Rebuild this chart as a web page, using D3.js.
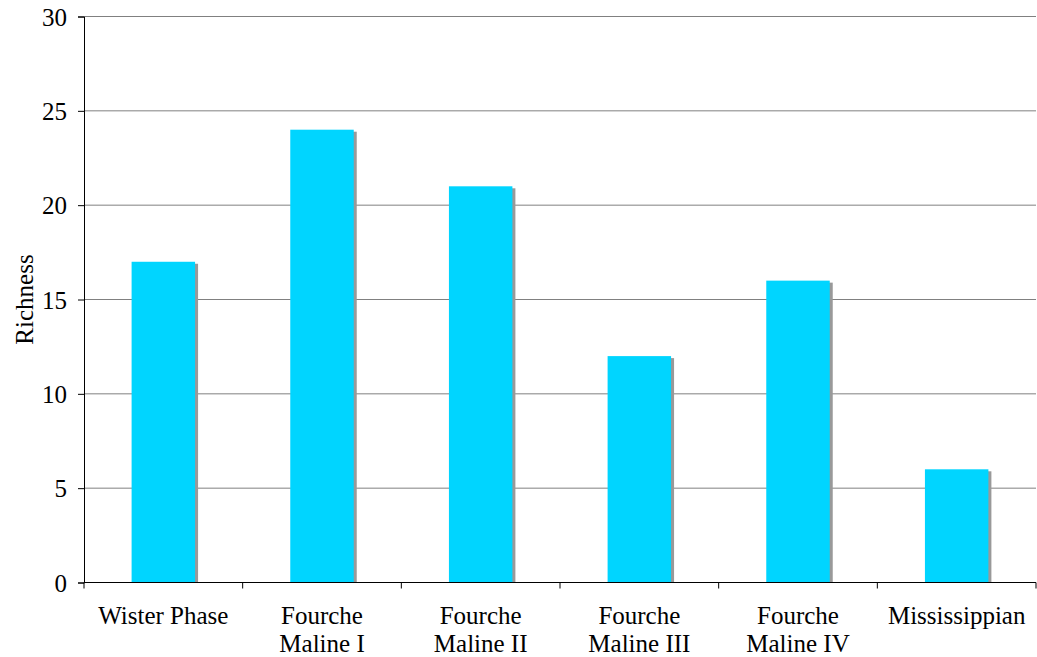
<!DOCTYPE html>
<html>
<head>
<meta charset="utf-8">
<script src="https://cdn.jsdelivr.net/npm/d3@7"></script>
<style>
  body { margin: 0; background: #fff; }
  text { font-family: "Liberation Serif", "Times New Roman", serif; fill: #000; }
</style>
</head>
<body>
<svg id="chart" width="1037" height="657"></svg>
<script>
// chart data
const categories = [
    ['Wister Phase'],
    ['Fourche', 'Maline I'],
    ['Fourche', 'Maline II'],
    ['Fourche', 'Maline III'],
    ['Fourche', 'Maline IV'],
    ['Mississippian']
]
const richness = [17, 24, 21, 12, 16, 6]
const yTicks = [0, 5, 10, 15, 20, 25, 30]

const fontSize = '25px'

const margin = { top: 16.5, right: 1, bottom: 74.5, left: 84 }
const width  = 1037 - margin.left - margin.right
const height = 657 - margin.top - margin.bottom

const svg = d3.select('#chart')
const g = svg.append('g')
    .attr('transform', `translate(${margin.left},${margin.top})`)

const x = d3.scaleBand()
    .domain(d3.range(categories.length))
    .range([0, width])
    .paddingInner(0.6)
    .paddingOuter(0.3)

const y = d3.scaleLinear()
    .domain([0, 30])
    .range([height, 0])

// gridlines
g.selectAll('.grid')
    .data(yTicks.filter(d => d > 0))
    .join('line')
    .attr('x1', 0).attr('x2', width)
    .attr('y1', d => y(d)).attr('y2', d => y(d))
    .attr('stroke', '#808080')
    .attr('stroke-width', 1)

// shadow then bars
g.selectAll('.shadow')
    .data(richness)
    .join('rect')
    .attr('x', (d, i) => x(i) + 3)
    .attr('y', d => y(d) + 2)
    .attr('width', x.bandwidth())
    .attr('height', d => height - y(d) - 2)
    .attr('fill', '#999999')

g.selectAll('.bar')
    .data(richness)
    .join('rect')
    .attr('x', (d, i) => x(i))
    .attr('y', d => y(d))
    .attr('width', x.bandwidth())
    .attr('height', d => height - y(d))
    .attr('fill', '#00d5ff')

// y axis
const yAxis = g.append('g')
    .call(d3.axisLeft(y).tickValues(yTicks).tickSize(6).tickPadding(11))
yAxis.attr('font-family', null).attr('font-size', null)
yAxis.select('.domain').attr('stroke', '#000')
yAxis.selectAll('.tick line').attr('stroke', '#000')
yAxis.selectAll('text')
    .attr('dy', '0.34em')
    .style('font-size', fontSize)
    .style('font-family', '"Liberation Serif", serif')

// x axis with ticks at band boundaries
const step = width / categories.length
const xAxis = g.append('g').attr('transform', `translate(0,${height})`)
xAxis.append('line')
    .attr('x1', 0).attr('x2', width)
    .attr('stroke', '#000')
xAxis.selectAll('.xtick')
    .data(d3.range(categories.length + 1))
    .join('line')
    .attr('x1', d => d * step).attr('x2', d => d * step)
    .attr('y1', 0).attr('y2', 6)
    .attr('stroke', '#000')

const labels = xAxis.selectAll('.xlabel')
    .data(categories)
    .join('text')
    .attr('text-anchor', 'middle')
    .style('font-size', fontSize)
    .attr('transform', (d, i) => `translate(${x(i) + x.bandwidth() / 2},${41.5})`)

labels.selectAll('tspan')
    .data(d => d)
    .join('tspan')
    .attr('x', 0)
    .attr('dy', (d, i) => i === 0 ? 0 : 28)
    .text(d => d)

// y label
svg.append('text')
    .attr('transform', `translate(33,${margin.top + height / 2}) rotate(-90)`)
    .attr('text-anchor', 'middle')
    .style('font-size', fontSize)
    .text('Richness')
</script>
</body>
</html>
